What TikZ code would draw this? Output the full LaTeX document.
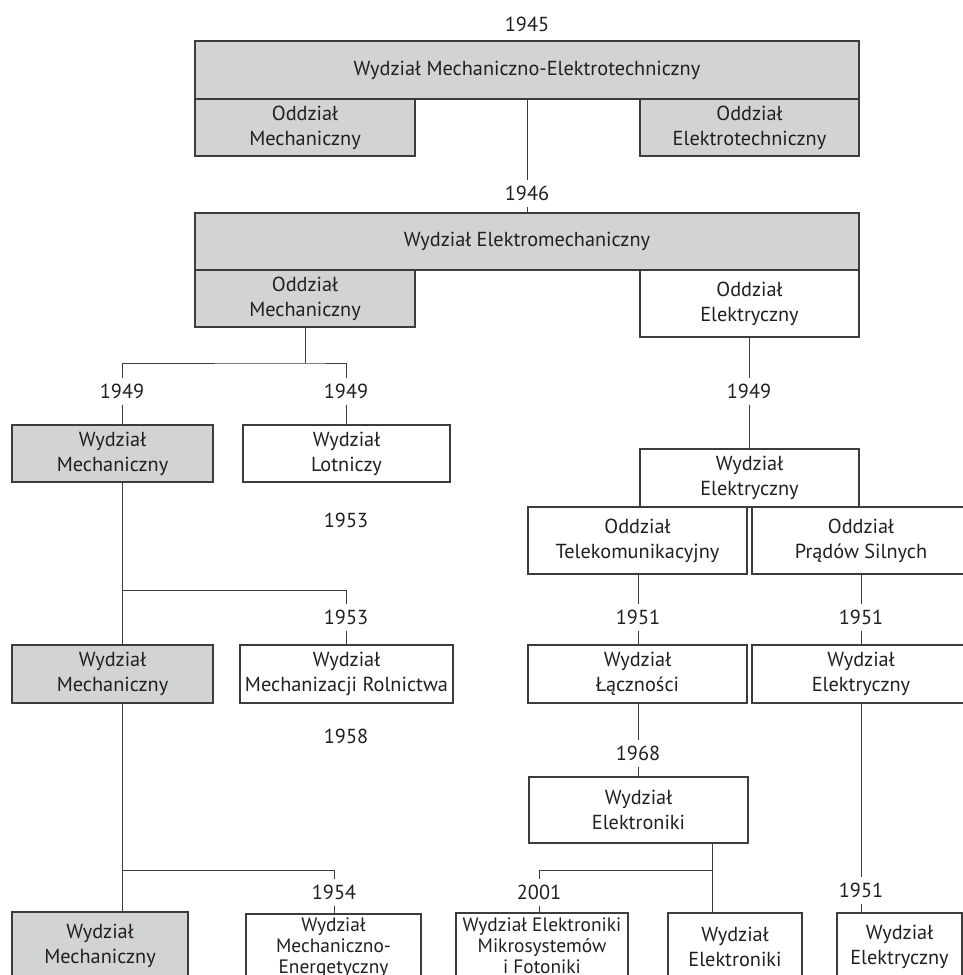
\documentclass[tikz,border=0pt]{standalone}
\usepackage{fontspec}
\setmainfont{PT Sans}
\usetikzlibrary{calc}
\definecolor{boxgray}{HTML}{D1D3D4}
\definecolor{ln}{HTML}{3C3C3C}
\definecolor{tx}{HTML}{231F20}
\newcommand\bx[7]{\node[#6, minimum width={#4-#2}, minimum height={#5-#3}] (#1) at ({(#2+#4)/2},{(#3+#5)/2}) {#7};}
\tikzset{
  base/.style={draw=ln, line width=1.2pt, inner sep=1pt, outer sep=0pt, align=center, text=tx,
    font=\fontsize{20.3}{25}\selectfont},
  gbox/.style={base, fill=boxgray},
  wbox/.style={base, fill=white},
  tbox/.style={base, fill=white, inner sep=0pt, font=\fontsize{19.4}{21}\selectfont},
  year/.style={inner sep=0pt, outer sep=0pt, minimum height=27pt, text=tx, font=\fontsize{20.3}{25}\selectfont},
  conn/.style={draw=ln, line width=1pt},
}
\begin{document}
\begin{tikzpicture}[x=1pt,y=-1pt]
\clip (0,0) rectangle (963,975);
\fill[white] (0,0) rectangle (963,975);
% top
\node[year] (y1945) at (527,24) {1945};
\bx{A}{195}{41}{859}{99}{gbox}{Wydział Mechaniczno-Elektrotechniczny}
\bx{A1}{195}{99}{415}{156}{gbox}{Oddział\\Mechaniczny}
\bx{A2}{640}{99}{859}{156}{gbox}{Oddział\\Elektrotechniczny}
\node[year] (y1946) at (527,193) {1946};
\bx{B}{195}{213}{859}{270}{gbox}{Wydział Elektromechaniczny}
\bx{B1}{195}{270}{415}{327}{gbox}{Oddział\\Mechaniczny}
\bx{B2}{640}{270}{859}{337}{wbox}{Oddział\\Elektryczny}
% left column
\coordinate (j1) at (305,363);
\node[year] (y49a) at (122,391) {1949};
\node[year] (y49b) at (346,391) {1949};
\bx{WM1}{12}{425}{213}{482}{gbox}{Wydział\\Mechaniczny}
\bx{WL}{243}{425}{450}{482}{wbox}{Wydział\\Lotniczy}
\node[year] (y53f) at (346,520) {1953};
\coordinate (j2) at (122,590);
\node[year] (y53) at (346,617) {1953};
\bx{WM2}{12}{645}{213}{703}{gbox}{Wydział\\Mechaniczny}
\bx{WMR}{240}{645}{453}{703}{wbox}{Wydział\\Mechanizacji Rolnictwa}
\node[year] (y58f) at (346,736) {1958};
\coordinate (j3) at (122,870);
\node[year] (y54) at (334,892) {1954};
\bx{WM3}{12}{912}{188}{980}{gbox}{Wydział\\Mechaniczny}
\bx{WME}{246}{914}{421}{981}{tbox}{Wydział\\Mechaniczno-\\Energetyczny}
% right column
\node[year] (y49c) at (749,391) {1949};
\bx{WE}{640}{449}{859}{507}{wbox}{Wydział\\Elektryczny}
\bx{OT}{528}{507}{747}{574}{wbox}{Oddział\\Telekomunikacyjny}
\bx{OP}{752}{507}{970}{574}{wbox}{Oddział\\Prądów Silnych}
\node[year] (y51a) at (638,617) {1951};
\node[year] (y51b) at (861,617) {1951};
\bx{WL2}{528}{645}{747}{703}{wbox}{Wydział\\Łączności}
\bx{WE2}{752}{645}{970}{703}{wbox}{Wydział\\Elektryczny}
\node[year] (y68) at (638,753) {1968};
\bx{WEL}{529}{777}{748}{843}{wbox}{Wydział\\Elektroniki}
\coordinate (j4) at (712,870);
\node[year] (y2001) at (539,892) {2001};
\bx{WEM}{456}{913}{628}{979}{tbox}{Wydział Elektroniki\\Mikrosystemów\\i Fotoniki}
\bx{WER}{668}{913}{802}{980}{wbox}{Wydział\\Elektroniki}
\node[year] (y51c) at (861,890) {1951};
\bx{WE3}{837}{913}{962}{980}{wbox}{Wydział\\Elektryczny}
% connectors
\draw[conn] (A.south) -- (y1946.north);
\draw[conn] (y1946.south) -- (B.north);
\draw[conn] (B1.south) -- (j1);
\draw[conn] (y49a.north) |- (j1) -| (y49b.north);
\draw[conn] (y49a.south) -- (WM1.north -| y49a);
\draw[conn] (y49b.south) -- (WL.north -| y49b);
\draw[conn] (WM1.south -| j2) -- (WM2.north -| j2);
\draw[conn] (j2) -| (y53.north);
\draw[conn] (y53.south) -- (WMR.north -| y53);
\draw[conn] (WM2.south -| j3) -- (WM3.north -| j3);
\draw[conn] (j3) -| (y54.north);
\draw[conn] (y54.south) -- (WME.north -| y54);
\draw[conn] (B2.south -| y49c) -- (y49c.north);
\draw[conn] (y49c.south) -- (WE.north -| y49c);
\draw[conn] (OT.south -| y51a) -- (y51a.north);
\draw[conn] (y51a.south) -- (WL2.north -| y51a);
\draw[conn] (OP.south -| y51b) -- (y51b.north);
\draw[conn] (y51b.south) -- (WE2.north -| y51b);
\draw[conn] (WL2.south -| y68) -- (y68.north);
\draw[conn] (y68.south) -- (WEL.north -| y68);
\draw[conn] (WEL.south -| j4) -- (WER.north -| j4);
\draw[conn] (j4) -| (y2001.north);
\draw[conn] (y2001.south) -- (WEM.north -| y2001);
\draw[conn] (WE2.south -| y51c) -- (y51c.north);
\draw[conn] (y51c.south) -- (WE3.north -| y51c);
\end{tikzpicture}
\end{document}
